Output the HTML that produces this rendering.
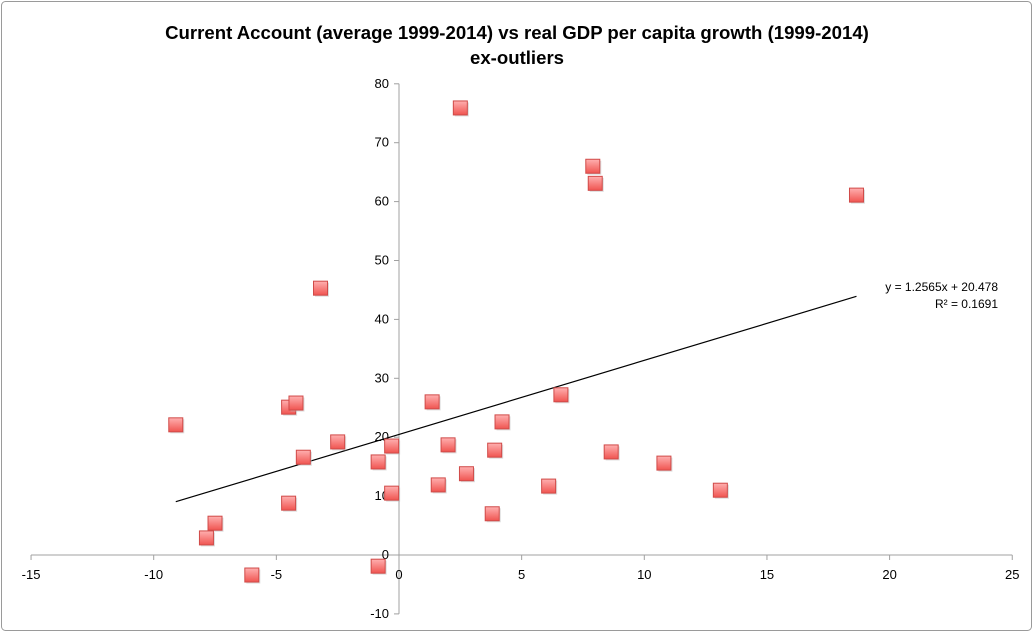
<!DOCTYPE html>
<html><head><meta charset="utf-8"><style>
body{margin:0;background:#fff;width:1033px;height:632px;overflow:hidden;font-family:"Liberation Sans",sans-serif}
</style></head><body>
<svg id="chart" width="1033" height="632" xmlns="http://www.w3.org/2000/svg">
<defs>
<linearGradient id="mk" x1="0" y1="0" x2="0" y2="1"><stop offset="0" stop-color="#ffb0b0"/><stop offset="1" stop-color="#f05450"/></linearGradient>
</defs>
<rect x="1.5" y="1.5" width="1030" height="629" rx="4" fill="#fff" stroke="#9a9a9a"/>
<text x="517" y="39" text-anchor="middle" font-size="18.6" font-weight="bold">Current Account (average 1999-2014) vs real GDP per capita growth (1999-2014)</text>
<text x="517" y="64" text-anchor="middle" font-size="18.6" font-weight="bold">ex-outliers</text>
<g id="axes"></g><g id="marks"></g>
<text x="998" y="291" text-anchor="end" font-size="12">y = 1.2565x + 20.478</text>
<text x="998" y="308" text-anchor="end" font-size="12">R² = 0.1691</text>
</svg>
<script>
const xs=[-9.1,-7.5,-7.85,-6.0,-4.5,-4.5,-4.2,-3.9,-2.5,-3.2,-0.85,-0.85,-0.3,-0.3,1.35,1.6,2.0,2.75,2.5,3.8,3.9,4.2,6.1,6.6,7.9,8.0,8.65,10.8,13.1,18.65];
const ys=[22.1,5.4,2.9,-3.4,8.8,25.1,25.8,16.6,19.2,45.3,15.8,-1.9,18.5,10.5,26.0,11.9,18.7,13.8,75.9,7.0,17.8,22.6,11.7,27.2,66.0,63.1,17.5,15.6,11.0,61.1];
const xTicks=[-15,-10,-5,0,5,10,15,20,25];
const yTicks=[-10,0,10,20,30,40,50,60,70,80];
const slope=1.2565, intercept=20.478;
const NS="http://www.w3.org/2000/svg";
const X=v=>399+v*24.53, Y=v=>555-v*5.89;
function mk(tag,attrs,parent){const e=document.createElementNS(NS,tag);for(const k in attrs)e.setAttribute(k,attrs[k]);parent.appendChild(e);return e;}
const ax=document.getElementById('axes'), mg=document.getElementById('marks');
let l=mk('line',{x1:X(-15),x2:X(25),y1:Y(0),y2:Y(0),stroke:'#a0a0a0'},ax);


l=mk('line',{x1:X(0),x2:X(0),y1:Y(80),y2:Y(-10),stroke:'#a0a0a0'},ax);


xTicks.forEach(t=>{
 mk('line',{x1:X(t),x2:X(t),y1:Y(0),y2:Y(0)+5,stroke:'#a0a0a0'},ax);
 const tx=mk('text',{x:X(t),y:Y(0)+24,'text-anchor':'middle','font-size':13},ax);tx.textContent=t;
 
 
});
yTicks.forEach(t=>{
 mk('line',{x1:X(0)-5,x2:X(0),y1:Y(t),y2:Y(t),stroke:'#a0a0a0'},ax);
 const tx=mk('text',{x:X(0)-10,y:Y(t)+4,'text-anchor':'end','font-size':13},ax);tx.textContent=t;
 
 
});
const xmin=Math.min(...xs), xmax=Math.max(...xs);
l=mk('line',{x1:X(xmin),y1:Y(slope*xmin+intercept),x2:X(xmax),y2:Y(slope*xmax+intercept),stroke:'#000','stroke-width':1.2},mg);


xs.forEach((v,i)=>{
 mk('rect',{x:X(v)-5.5,y:Y(ys[i])-5.5,width:14,height:14,fill:'#bbb',opacity:0.5},mg);
 const r=mk('rect',{x:X(v)-7,y:Y(ys[i])-7,width:14,height:14,fill:'url(#mk)',stroke:'#d04a48','stroke-width':1},mg);
 
 
});
</script>
</body></html>
